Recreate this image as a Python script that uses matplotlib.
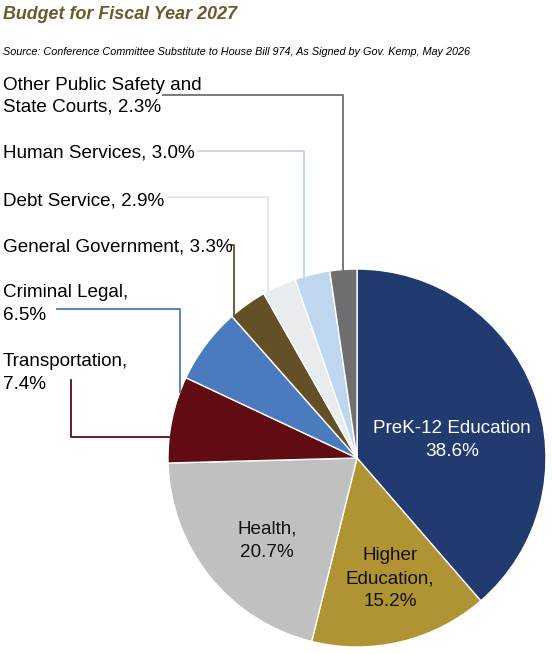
import numpy as np
import matplotlib.pyplot as plt

plt.rcParams['font.family'] = ['Liberation Sans', 'DejaVu Sans']

# datos del grafico, en el orden de las agujas del reloj desde arriba
categorias = ["PreK-12 Education", "Higher Education", "Health", "Transportation",
              "Criminal Legal", "General Government", "Debt Service",
              "Human Services", "Other Public Safety and State Courts"]
porcentajes = [38.6, 15.2, 20.7, 7.4, 6.5, 3.3, 2.9, 3.0, 2.3]
colores = ["#213A70", "#B09434", "#C0C0C0", "#600C12", "#4A7BBF",
           "#635027", "#E8ECEE", "#BED6EE", "#6E6E70"]

titulo = "Budget for Fiscal Year 2027"
fuente = "Source: Conference Committee Substitute to House Bill 974, As Signed by Gov. Kemp, May 2026"

W, H = 552, 654
fig = plt.figure(figsize=(W / 100, H / 100), dpi=100)
ax = fig.add_axes([0, 0, 1, 1])

def Y(y):  # pasamos de pixeles (arriba-abajo) a datos
    return H - y

cx, cy, r = 357, 458, 189
ax.pie(porcentajes, colors=colores, startangle=90, counterclock=False,
       center=(cx, Y(cy)), radius=r, frame=True,
       wedgeprops=dict(edgecolor="white", linewidth=1.0))
ax.set_xlim(0, W)
ax.set_ylim(0, H)
ax.set_aspect("equal")
ax.axis("off")

fs = 13.6

def lineas(x, bases, textos, **kw):  # una linea de texto por cada base
    for b, t in zip(bases, textos):
        ax.text(x, Y(b), t, fontsize=fs, va="baseline", **kw)

# titulo y fuente
ax.text(3, Y(19), titulo, fontsize=12.9, fontweight="bold", fontstyle="italic",
        color="#6B5A2A", va="baseline", ha="left")
ax.text(3, Y(55), fuente, fontsize=7.8, fontstyle="italic", color="black",
        va="baseline", ha="left")

# etiquetas dentro del pastel
lineas(452, [433, 456], ["PreK-12 Education", "38.6%"], color="white", ha="center")
lineas(267, [534, 557], ["Health,", "20.7%"], color="#111111", ha="center")
lineas(390, [560, 583, 606], ["Higher", "Education,", "15.2%"], color="#111111", ha="center")

def borde_y(x):  # punto de arriba del circulo para una x
    return cy - np.sqrt(r ** 2 - (x - cx) ** 2)

def borde_x(y):  # punto izquierdo del circulo para una y
    return cx - np.sqrt(r ** 2 - (y - cy) ** 2)

lw = 1.3
# etiquetas de fuera con lineas guia
lineas(3, [90, 112], ["Other Public Safety and", "State Courts, 2.3%"], ha="left")
ax.plot([163, 343, 343], [Y(95), Y(95), Y(borde_y(343))], color=colores[8], lw=lw)

lineas(3, [158], ["Human Services, 3.0%"], ha="left")
ax.plot([198, 304, 304], [Y(151), Y(151), Y(borde_y(304))], color=colores[7], lw=lw)

lineas(3, [205], ["Debt Service, 2.9%"], ha="left")
ax.plot([168, 268, 268], [Y(197), Y(197), Y(borde_y(268))], color="#E3E7E9", lw=lw)

lineas(3, [251], ["General Government, 3.3%"], ha="left")
ax.plot([231, 234, 234], [Y(245), Y(245), Y(borde_y(234))], color=colores[5], lw=lw)

lineas(3, [297, 320], ["Criminal Legal,", "6.5%"], ha="left")
ax.plot([57, 180, 180], [Y(309), Y(309), Y(borde_y(180))], color=colores[4], lw=lw)

lineas(3, [366, 389], ["Transportation,", "7.4%"], ha="left")
ax.plot([71, 71, borde_x(437)], [Y(380), Y(437), Y(437)], color=colores[3], lw=lw)

plt.savefig("out.png", dpi=100, facecolor="white")
